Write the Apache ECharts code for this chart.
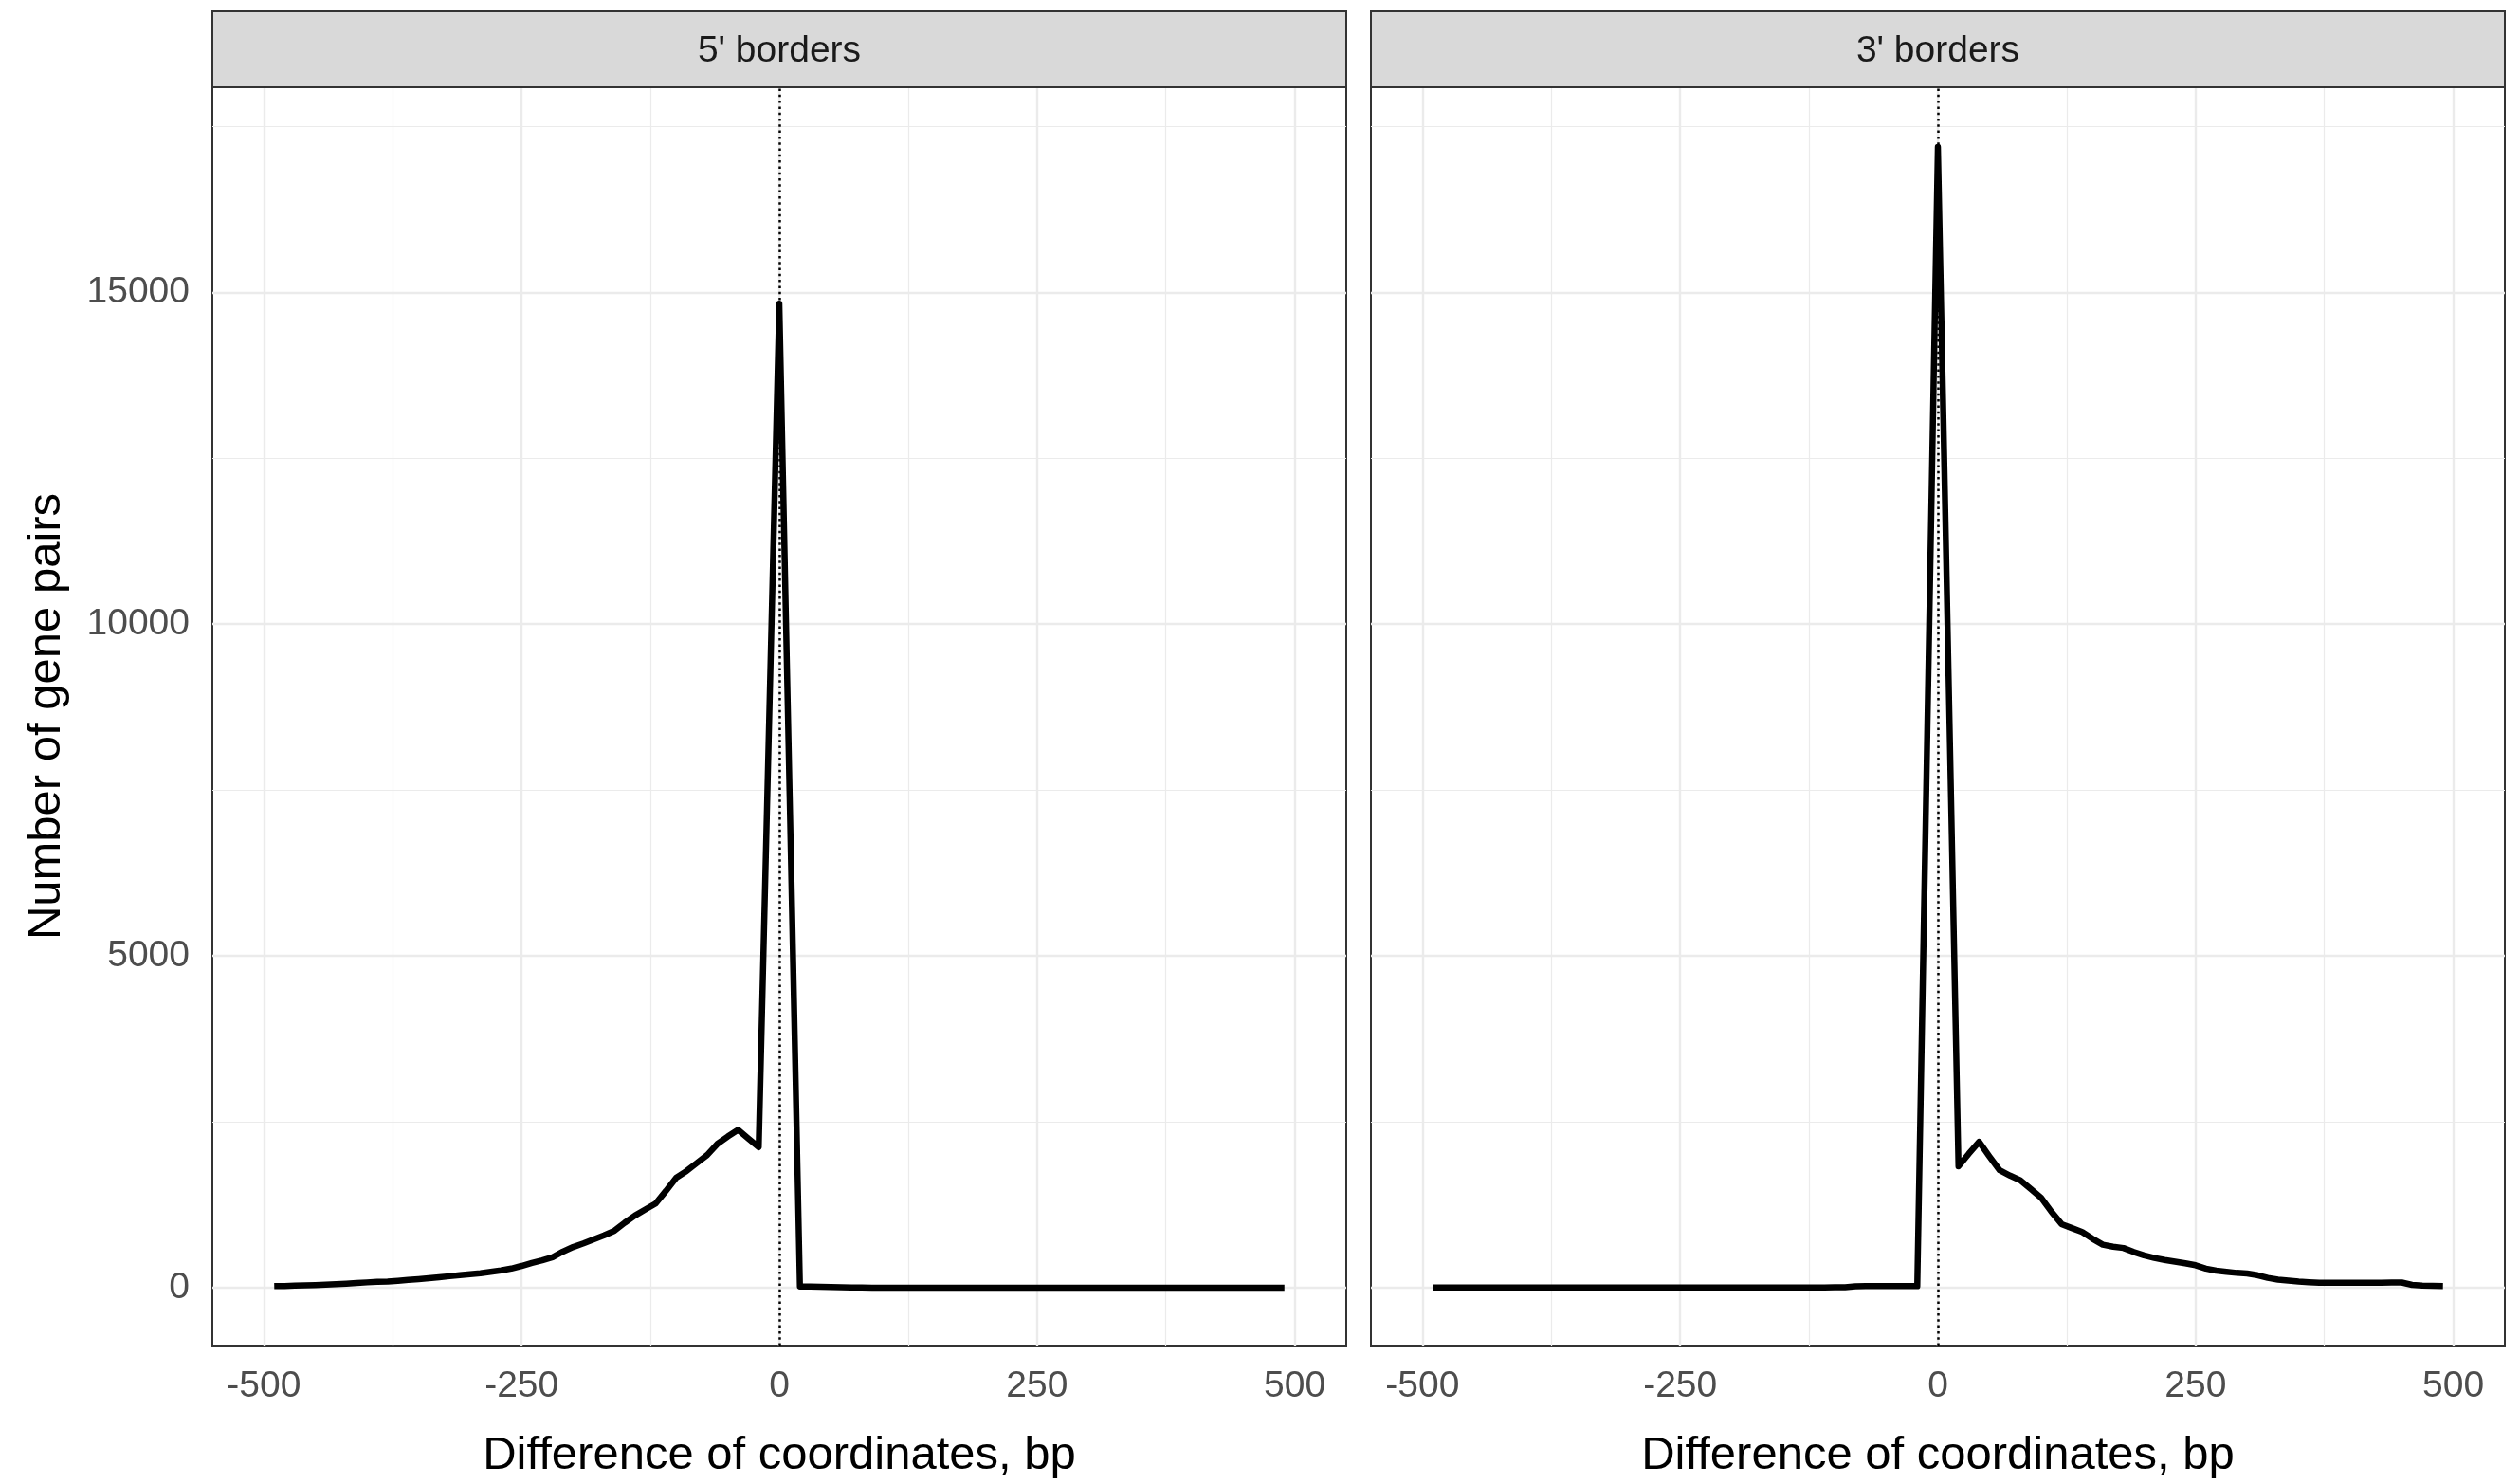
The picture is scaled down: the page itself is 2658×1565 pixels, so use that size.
<!DOCTYPE html>
<html>
<head>
<meta charset="utf-8">
<script src="https://cdn.jsdelivr.net/npm/echarts@6/dist/echarts.min.js"></script>
<style>
  html, body { margin: 0; padding: 0; background: #fff; }
  #chart { width: 2658px; height: 1565px; }
</style>
</head>
<body>
<div id="chart"></div>
<script>
// facet titles
var panelNames = ["5' borders", "3' borders"];

// bin positions, bp
var binMids = [
    -490, -480, -470, -460, -450, -440, -430, -420, -410, -400,
    -390, -380, -370, -360, -350, -340, -330, -320, -310, -300,
    -290, -280, -270, -260, -250, -240, -230, -220, -210, -200,
    -190, -180, -170, -160, -150, -140, -130, -120, -110, -100,
    -90, -80, -70, -60, -50, -40, -30, -20, -10, 0,
    10, 20, 30, 40, 50, 60, 70, 80, 90, 100,
    110, 120, 130, 140, 150, 160, 170, 180, 190, 200,
    210, 220, 230, 240, 250, 260, 270, 280, 290, 300,
    310, 320, 330, 340, 350, 360, 370, 380, 390, 400,
    410, 420, 430, 440, 450, 460, 470, 480, 490
];

// number of gene pairs, 5' borders
var counts5 = [
    25, 28, 32, 36, 42, 48, 55, 62, 72, 82,
    90, 95, 105, 118, 130, 145, 160, 175, 190, 205,
    220, 240, 262, 290, 330, 375, 415, 460, 545, 615,
    670, 730, 790, 860, 980, 1090, 1180, 1270, 1460, 1660,
    1760, 1880, 2000, 2170, 2280, 2380, 2250, 2120, 8470, 14830,
    7420, 20, 18, 15, 12, 10, 6, 4, 3, 3,
    3, 3, 3, 3, 3, 3, 3, 3, 3, 3,
    2, 2, 2, 2, 2, 2, 2, 2, 2, 2,
    2, 2, 2, 2, 2, 2, 2, 2, 2, 2,
    2, 2, 2, 2, 2, 2, 2, 2, 2
];

// number of gene pairs, 3' borders
var counts3 = [
    5, 5, 5, 5, 5, 5, 5, 5, 5, 5,
    5, 5, 5, 5, 5, 5, 5, 5, 5, 5,
    5, 5, 5, 5, 5, 5, 5, 5, 5, 5,
    5, 5, 5, 5, 5, 5, 5, 5, 5, 8,
    10, 22, 25, 25, 25, 25, 25, 25, 8610, 17190,
    9510, 1830, 2020, 2200, 1980, 1770, 1690, 1620, 1490, 1360,
    1150, 960, 900, 840, 740, 650, 620, 600, 540, 490,
    450, 420, 395, 370, 340, 290, 258, 240, 225, 215,
    190, 150, 124, 110, 95, 85, 78, 75, 75, 75,
    75, 76, 78, 80, 80, 45, 35, 30, 28
];

// axis ticks
var xTicks = [-500, -250, 0, 250, 500];
var xMinor = [-375, -125, 125, 375];
var yTicks = [0, 5000, 10000, 15000];
var yMinor = [2500, 7500, 12500, 17500];

var FONT = '"Liberation Sans", Arial, sans-serif';
var chart = echarts.init(document.getElementById('chart'));

var panels = [
    { left: 224, counts: counts5 },
    { left: 1446, counts: counts3 }
];
var pw = 1196, ph = 1331, panelTop = 92;

function pairs(xs, ys) {
    var out = [];
    for (var i = 0; i < xs.length; i++) out.push([xs[i], ys[i]]);
    return out;
}

var grids = [], xAxes = [], yAxes = [], series = [], graphics = [];

panels.forEach(function (p, i) {
    grids.push({
        left: p.left, top: panelTop, width: pw, height: ph,
        show: true, backgroundColor: '#fff',
        borderColor: '#333333', borderWidth: 2
    });
    xAxes.push({
        type: 'value', gridIndex: i, min: -550, max: 550,
        name: 'Difference of coordinates, bp',
        nameLocation: 'middle', nameGap: 92,
        nameTextStyle: { fontFamily: FONT, fontSize: 49, color: '#000' },
        axisLine: { show: false },
        axisTick: { show: true, length: 12, customValues: xTicks,
            lineStyle: { color: '#333333', width: 2 } },
        axisLabel: { customValues: xTicks, margin: 24,
            formatter: function (v) { return String(v); },
            fontFamily: FONT, fontSize: 39, color: '#4D4D4D' },
        splitLine: { show: false }
    });
    yAxes.push({
        type: 'value', gridIndex: i, min: -870, max: 18090,
        name: i === 0 ? 'Number of gene pairs' : '',
        nameLocation: 'middle', nameGap: 150,
        nameTextStyle: { fontFamily: FONT, fontSize: 49, color: '#000' },
        axisLine: { show: false },
        axisTick: { show: i === 0, length: 12, customValues: yTicks,
            lineStyle: { color: '#333333', width: 2 } },
        axisLabel: { show: i === 0, customValues: yTicks, margin: 24,
            formatter: function (v) { return String(v); },
            fontFamily: FONT, fontSize: 39, color: '#4D4D4D' },
        splitLine: { show: false }
    });

    // panel grid lines (kept under the data line)
    var gl = [];
    xMinor.forEach(function (v) { gl.push({ xAxis: v, lineStyle: { width: 1.2 } }); });
    yMinor.forEach(function (v) { gl.push({ yAxis: v, lineStyle: { width: 1.2 } }); });
    xTicks.forEach(function (v) { gl.push({ xAxis: v, lineStyle: { width: 2.4 } }); });
    yTicks.forEach(function (v) { gl.push({ yAxis: v, lineStyle: { width: 2.4 } }); });
    series.push({
        type: 'line', xAxisIndex: i, yAxisIndex: i, data: [], z: 1,
        silent: true, animation: false,
        markLine: {
            z: 1, silent: true, symbol: ['none', 'none'], label: { show: false },
            lineStyle: { color: '#EBEBEB', type: 'solid' },
            data: gl
        }
    });

    series.push({
        name: panelNames[i],
        type: 'line', xAxisIndex: i, yAxisIndex: i, z: 3,
        data: pairs(binMids, p.counts),
        showSymbol: false, animation: false,
        lineStyle: { color: '#000', width: 6.5, join: 'round', cap: 'butt' }
    });

    // dotted line at 0
    series.push({
        type: 'line', xAxisIndex: i, yAxisIndex: i, data: [], z: 4,
        silent: true, animation: false,
        markLine: {
            z: 4, silent: true, symbol: ['none', 'none'], label: { show: false },
            lineStyle: { color: '#000', type: [2.5, 3.8], width: 2.5 },
            data: [{ xAxis: 0 }]
        }
    });

    // facet strip
    graphics.push({
        type: 'rect', z: 10,
        shape: { x: p.left, y: 12, width: pw, height: 80 },
        style: { fill: '#D9D9D9', stroke: '#333333', lineWidth: 2 }
    });
    graphics.push({
        type: 'text', z: 11, x: p.left + pw / 2, y: 54,
        style: { text: panelNames[i], font: '39px ' + FONT, fill: '#1A1A1A',
            align: 'center', verticalAlign: 'middle',
            textAlign: 'center', textVerticalAlign: 'middle' }
    });
});

chart.setOption({
    backgroundColor: '#fff',
    animation: false,
    textStyle: { fontFamily: FONT },
    grid: grids,
    xAxis: xAxes,
    yAxis: yAxes,
    series: series,
    graphic: graphics
});
</script>
</body>
</html>
